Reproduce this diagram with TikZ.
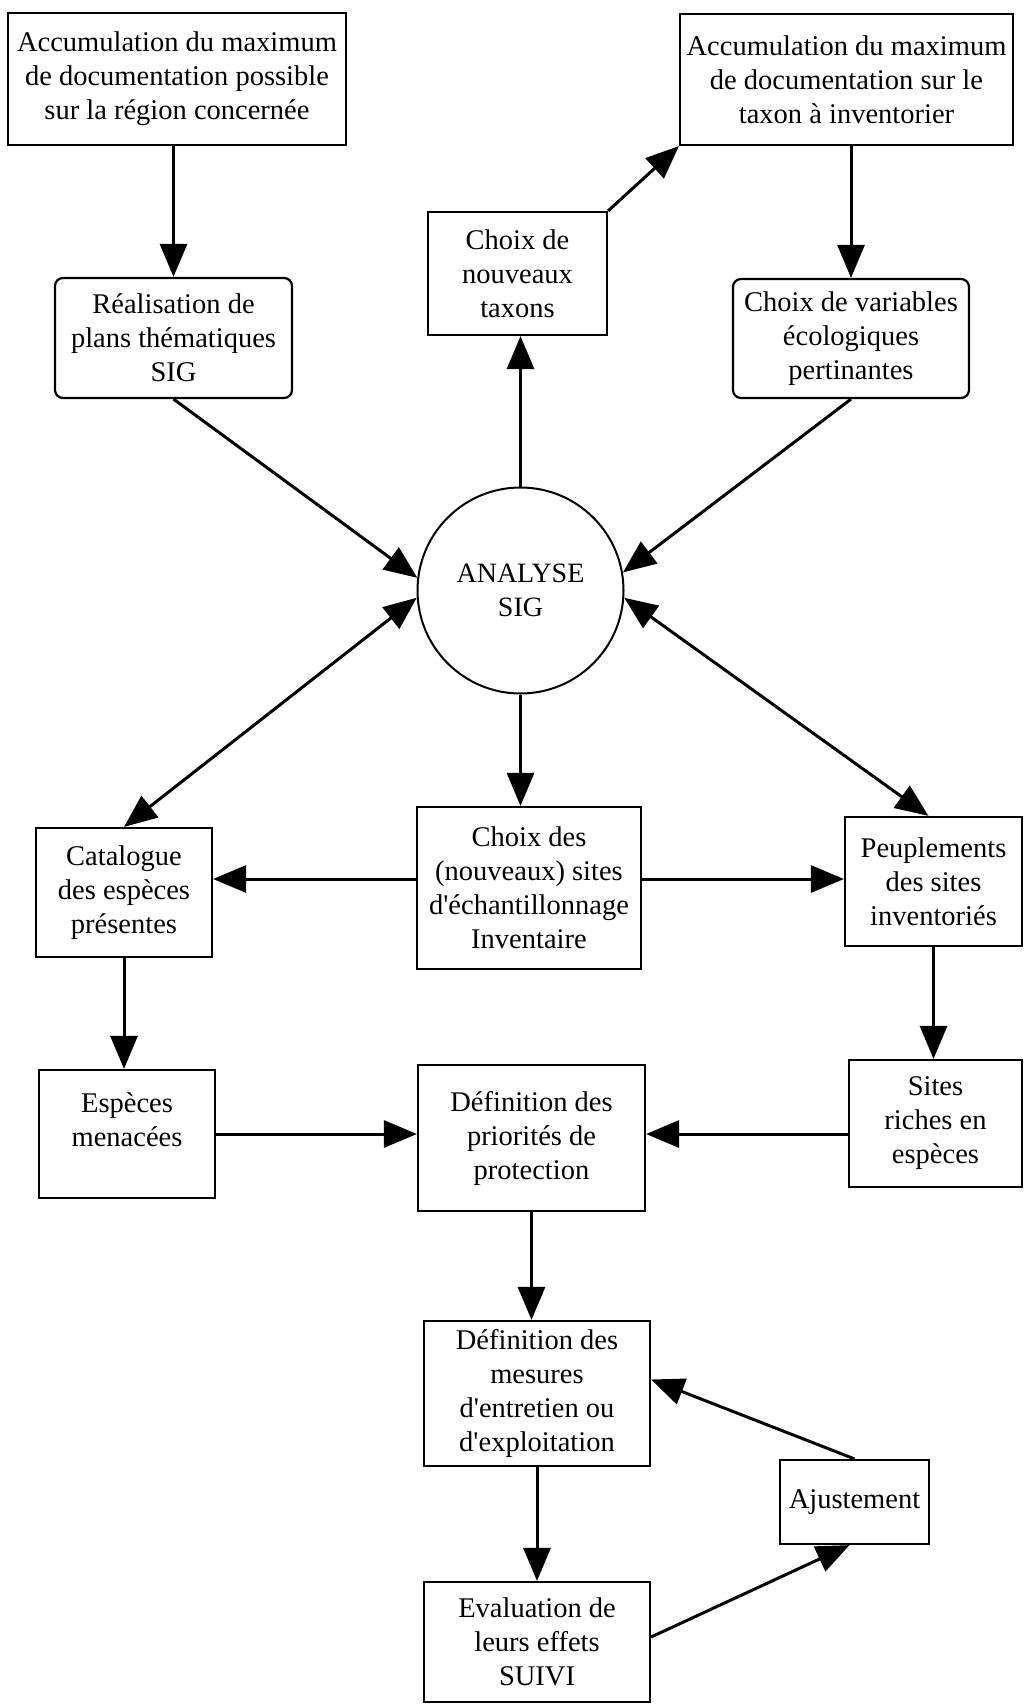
\documentclass[tikz,border=0pt]{standalone}
\usepackage{fontspec}
\setmainfont{Liberation Serif}[Ligatures=TeXOff]
\usetikzlibrary{arrows.meta,calc}
\begin{document}
\begin{tikzpicture}[x=1pt,y=-1pt,
  box/.style={draw,line width=2.2pt,inner sep=0pt,align=center,font=\fontsize{28.5}{34}\selectfont},
  rbox/.style={box,rounded corners=8pt},
  circ/.style={draw,circle,line width=2pt,minimum size=206pt,inner sep=0pt,align=center,font=\fontsize{28}{34}\selectfont},
  arr/.style={line width=3pt,-{Triangle[length=33pt,width=27pt]}},
  darr/.style={line width=3pt,{Triangle[length=33pt,width=27pt]}-{Triangle[length=33pt,width=27pt]}}]
\useasboundingbox[fill=white] (0,0) rectangle (1025,1704);
\node[box,minimum width=338pt,minimum height=132pt] (acc1) at (177,79) {Accumulation du maximum\\de documentation possible\\sur la région concernée};
\node[rbox,minimum width=237pt,minimum height=120pt] (real) at (173.5,338) {Réalisation de\\plans thématiques\\SIG};
\node[box,minimum width=179pt,minimum height=123pt] (tax) at (517.5,273.5) {Choix de\\nouveaux\\taxons};
\node[box,minimum width=333pt,minimum height=131pt] (acc2) at (846.5,79.5) {Accumulation du maximum\\de documentation sur le\\taxon à inventorier};
\node[rbox,minimum width=236pt,minimum height=119pt] (var) at (851,338.5) {Choix de variables\\écologiques\\pertinantes};
\node[circ] (ana) at (520.5,590.5) {ANALYSE\\SIG};
\node[box,minimum width=176pt,minimum height=129pt] (cat) at (124,892.5) {Catalogue\\des espèces\\présentes};
\node[box,minimum width=224pt,minimum height=162pt] (sites) at (529,888) {Choix des\\(nouveaux) sites\\d'échantillonnage\\Inventaire};
\node[box,minimum width=177pt,minimum height=129pt] (peup) at (933.5,881.5) {Peuplements\\des sites\\inventoriés};
\node[box,minimum width=176pt,minimum height=128pt] (esp) at (127,1134) {Espèces\\menacées\\[-6pt]};
\node[box,minimum width=227pt,minimum height=146pt] (prio) at (531.5,1138) {Définition des\\priorités de\\protection};
\node[box,minimum width=173pt,minimum height=127pt] (rich) at (935.5,1123.5) {Sites\\riches en\\espèces};
\node[box,minimum width=226pt,minimum height=145pt] (mes) at (537,1393.5) {Définition des\\mesures\\d'entretien ou\\d'exploitation};
\node[box,minimum width=226pt,minimum height=120pt] (eval) at (537,1642) {Evaluation de\\leurs effets\\SUIVI};
\node[box,minimum width=149pt,minimum height=84pt] (ajus) at (854.5,1502) {Ajustement};

\draw[arr] (acc1.south -| real.north) -- (real.north);
\draw[arr] (real.south) -- (ana.173);
\draw[arr] (ana.north) -- (ana.north |- tax.south);
\draw[arr] (tax.north east) -- (acc2.south west);
\draw[arr] (acc2.south -| var.north) -- (var.north);
\draw[arr] (var.south) -- (ana.10);
\draw[darr] (ana.184) -- (cat.north);
\draw[darr] (ana.356) -- ([xshift=-5pt]peup.north);
\draw[arr] (ana.south) -- (ana.south |- sites.north);
\draw[arr] ([yshift=9pt]sites.west) -- ([yshift=9pt]sites.west -| cat.east);
\draw[arr] ([yshift=9pt]sites.east) -- ([yshift=9pt]sites.east -| peup.west);
\draw[arr] (cat.south) -- (cat.south |- esp.north);
\draw[arr] (peup.south) -- (peup.south |- rich.north);
\draw[arr] (esp.east) -- (esp.east -| prio.west);
\draw[arr] (esp.east -| rich.west) -- (esp.east -| prio.east);
\draw[arr] (prio.south) -- (prio.south |- mes.north);
\draw[arr] (mes.south) -- (mes.south |- eval.north);
\draw[arr] (ajus.north) -- ([yshift=14pt]mes.east);
\draw[arr] ([yshift=5pt]eval.east) -- ([xshift=-5pt]ajus.south);
\end{tikzpicture}
\end{document}
